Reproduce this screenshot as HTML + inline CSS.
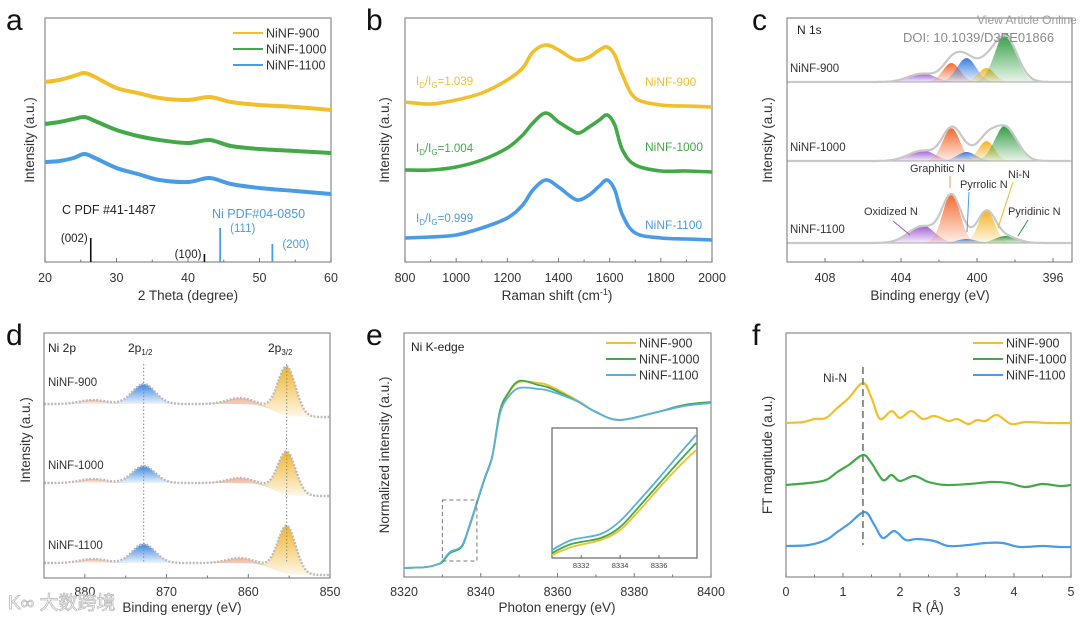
<!DOCTYPE html>
<html><head><meta charset="utf-8">
<style>
html,body{margin:0;padding:0;background:#fff;}
svg{display:block;font-family:"Liberation Sans","Noto Sans CJK SC",sans-serif;}
</style></head>
<body>
<svg id="fig" width="1080" height="619" viewBox="0 0 1080 619" xmlns="http://www.w3.org/2000/svg">
<defs>
<linearGradient id="gBlue" x1="0" y1="0" x2="0" y2="1"><stop offset="0" stop-color="#3b86e0"/><stop offset="1" stop-color="#3b86e0" stop-opacity="0.1"/></linearGradient>
<linearGradient id="gYel" x1="0" y1="0" x2="0" y2="1"><stop offset="0" stop-color="#f0b429"/><stop offset="1" stop-color="#f0b429" stop-opacity="0.1"/></linearGradient>
<linearGradient id="gPink" x1="0" y1="0" x2="0" y2="1"><stop offset="0" stop-color="#f4b79c"/><stop offset="1" stop-color="#f4b79c" stop-opacity="0.2"/></linearGradient>
<linearGradient id="gPur" x1="0" y1="0" x2="0" y2="1"><stop offset="0" stop-color="#9b59d0"/><stop offset="1" stop-color="#9b59d0" stop-opacity="0.1"/></linearGradient>
<linearGradient id="gOra" x1="0" y1="0" x2="0" y2="1"><stop offset="0" stop-color="#f26a2e"/><stop offset="1" stop-color="#f26a2e" stop-opacity="0.1"/></linearGradient>
<linearGradient id="gBlu2" x1="0" y1="0" x2="0" y2="1"><stop offset="0" stop-color="#3b7fe0"/><stop offset="1" stop-color="#3b7fe0" stop-opacity="0.1"/></linearGradient>
<linearGradient id="gYel2" x1="0" y1="0" x2="0" y2="1"><stop offset="0" stop-color="#f5b324"/><stop offset="1" stop-color="#f5b324" stop-opacity="0.1"/></linearGradient>
<linearGradient id="gGrn" x1="0" y1="0" x2="0" y2="1"><stop offset="0" stop-color="#2e9a3e"/><stop offset="1" stop-color="#2e9a3e" stop-opacity="0.1"/></linearGradient>
<clipPath id="clipC"><rect x="787" y="18" width="285" height="244"/></clipPath>
</defs>
</svg>
<script>
// ---------- DATA ----------
const seriesNames = ["NiNF-900","NiNF-1000","NiNF-1100"];
// (a) XRD
const xrdTheta = [20,22,24,25.5,27,30,33,36,40,43,46,50,55,60];
const xrd900  = [180,182,186,189,185,174,169,164,162,165,160,157,155,152];
const xrd1000 = [138,140,143,145,141,132,126,122,119,122,116,113,111,109];
const xrd1100 = [100,101,104,108,104,94,88,82,80,84,78,74,71,68];
const refCTheta = [26.4,42.3];
const refCHeight = [24,8];
const refCLabels = ["(002)","(100)"];
const refNiTheta = [44.5,51.8];
const refNiHeight = [34,18];
const refNiLabels = ["(111)","(200)"];
const xTicksA = [20,30,40,50,60];
// (b) Raman
const ramanShift = [800,900,1000,1100,1200,1260,1300,1350,1400,1450,1480,1520,1560,1590,1620,1650,1700,1800,1900,2000];
const raman900  = [160,158,162,169,182,194,210,217,212,204,202,205,212,215,207,187,164,157,156,155];
const raman1000 = [92,92,95,102,114,127,139,149,140,132,129,135,142,147,137,112,97,91,91,90];
const raman1100 = [24,25,27,34,44,57,72,82,75,65,62,67,76,82,72,47,29,24,23,22];
const ratioLabels = ["1.039","1.004","0.999"];
const xTicksB = [800,1000,1200,1400,1600,1800,2000];
// (c) N 1s components: Oxidized, Graphitic, Pyrrolic, Ni-N, Pyridinic
const compNames = ["Oxidized N","Graphitic N","Pyrrolic N","Ni-N","Pyridinic N"];
const compCenters = [402.9,401.35,400.55,399.5,398.5];
const compWidths = [0.65,0.45,0.5,0.42,0.55];
const n1s900  = [9,19,24,14,49];
const n1s1000 = [11,33,9,20,36];
const n1s1100 = [18,50,4,33,7];
const xTicksC = [408,404,400,396];
// (d) Ni 2p: peaks [sat 879, 2p1/2 872.8, sat 861, 2p3/2 855.3]
const ni2pCenters = [879,872.8,861,855.3];
const ni2pWidths = [1.6,1.4,1.6,1.1];
const ni2p900  = [4,20,6,49];
const ni2p1000 = [4,17,5,43];
const ni2p1100 = [4,19,5,48];
const xTicksD = [880,870,860,850];
// (e) XANES
const xanesE = [8320,8326,8329,8330,8332,8335,8337,8339,8341,8343,8345,8347,8350,8355,8358,8365,8370,8376,8385,8393,8400];
const xanes900  = [9,10,13,15,24,30,50,74,98,120,164,182,195,194,191,177,165,157,164,171,174];
const xanes1000 = [9,10,13,15,24,30,50,74,98,121,166,183,196,192,189,176,165,157,164,172,175];
const xanes1100 = [9,10,13,16,25,31,51,75,99,121,163,179,189,188,186,176,165,157,164,171,174];
const insetE = [8330.5,8331.5,8333,8334,8335,8336,8337,8337.9];
const inset900  = [3,11,18,28,48,70,91,108];
const inset1000 = [5,14,20,31,52,74,96,115];
const inset1100 = [8,18,24,37,58,80,103,123];
const xTicksE = [8320,8340,8360,8380,8400];
const insetTicks = [8332,8334,8336];
// (f) EXAFS
const rA900  = [0,0.3,0.5,0.7,0.9,1.1,1.35,1.5,1.65,1.85,2.0,2.2,2.4,2.6,2.85,3.0,3.2,3.35,3.5,3.7,3.95,4.2,4.6,5];
const ft900  = [154,155,158,159,169,179,194,179,158,166,159,166,158,161,156,158,153,157,156,162,153,155,154,154];
const rA1000 = [0,0.4,0.7,0.9,1.1,1.35,1.5,1.7,1.85,2.0,2.25,2.5,2.8,3.2,3.6,3.9,4.2,4.5,4.8,5];
const ft1000 = [92,94,97,105,112,122,114,97,102,96,101,95,92,93,95,94,90,93,91,92];
const rA1100 = [0,0.4,0.7,0.9,1.1,1.38,1.55,1.7,1.9,2.1,2.3,2.6,2.85,3.2,3.5,3.8,4.1,4.5,4.8,5];
const ft1100 = [31,32,37,45,53,65,52,39,46,37,38,36,31,32,34,34,30,31,30,30];
const xTicksF = [0,1,2,3,4,5];

// ---------- HELPERS ----------
const NS="http://www.w3.org/2000/svg";
const svg=document.getElementById('fig');
function el(tag,attrs,parent,text){const e=document.createElementNS(NS,tag);for(const k in attrs)e.setAttribute(k,attrs[k]);if(text!==undefined)e.textContent=text;(parent||svg).appendChild(e);return e;}
function lin(d0,d1,r0,r1){return v=>r0+(v-d0)*(r1-r0)/(d1-d0);}
function smoothPath(pts){
  let d=`M${pts[0][0].toFixed(1)},${pts[0][1].toFixed(1)}`;
  for(let i=0;i<pts.length-1;i++){const p0=pts[Math.max(0,i-1)],p1=pts[i],p2=pts[i+1],p3=pts[Math.min(pts.length-1,i+2)];
    const c1=[p1[0]+(p2[0]-p0[0])/6,p1[1]+(p2[1]-p0[1])/6],c2=[p2[0]-(p3[0]-p1[0])/6,p2[1]-(p3[1]-p1[1])/6];
    d+=`C${c1[0].toFixed(1)},${c1[1].toFixed(1)} ${c2[0].toFixed(1)},${c2[1].toFixed(1)} ${p2[0].toFixed(1)},${p2[1].toFixed(1)}`;}
  return d;}
const COL={y:"#f2bf2c",g:"#43a948",b:"#4a9be6",gray:"#555"};
function frame(x0,y0,x1,y1,name){
  const r=el('rect',{x:x0,y:y0,width:x1-x0,height:y1-y0,fill:'none',stroke:'#8a8a8a','stroke-width':1.2});
  
  
}
function xAxis(ticks,sx,y1,labelY,name,minorStep){
  const g=el('g',{});
  
  
  ticks.forEach(t=>{const x=sx(t);el('line',{x1:x,y1:y1,x2:x,y2:y1-4,stroke:'#777'},g);
    const tx=el('text',{x:x,y:labelY,'font-size':12.5,'text-anchor':'middle',fill:'#333'},g,String(t));
    
    });
  if(minorStep){for(let i=0;i<ticks.length-1;i++){const m=(ticks[i]+ticks[i+1])/2;const x=sx(m);el('line',{x1:x,y1:y1,x2:x,y2:y1-2.5,stroke:'#777'},g);}}
}
function title(x,y,txt,name,rot,size){
  const t=el('text',{x:x,y:y,'font-size':size||13.5,'text-anchor':'middle',fill:'#333',transform:rot?`rotate(-90 ${x} ${y})`:''},svg,txt);
  
  return t;}
function letter(x,y,c){const t=el('text',{x:x,y:y,'font-size':30,fill:'#111'},svg,c);
  
  }
function line(xs,vs,sx,sy,color,w,name,parent){
  const p=el('path',{d:smoothPath(xs.map((x,i)=>[sx(x),sy(vs[i])])),fill:'none',stroke:color,'stroke-width':w,'stroke-linejoin':'round'},parent);
  
  return p;}
function legend(x,y,colors,name){
  seriesNames.forEach((s,i)=>{
    const g=el('g',{});
    
    
    el('line',{x1:x,y1:y+i*16,x2:x+30,y2:y+i*16,stroke:colors[i],'stroke-width':2},g);
    el('text',{x:x+33,y:y+i*16+4.5,'font-size':12.5,fill:'#333'},g,s);});
}
const cols3=[COL.y,COL.g,COL.b];

// ---------- PANEL A ----------
(function(){
  const sx=lin(20,60,45,331), sy=lin(0,244,262,18);
  frame(45,18,331,262,'panel-a');
  [xrd900,xrd1000,xrd1100].forEach((s,i)=>line(xrdTheta,s,sx,sy,cols3[i],4,'xrd-'+seriesNames[i].toLowerCase()));
  refCTheta.forEach((t,i)=>{const r=el('line',{x1:sx(t),y1:262,x2:sx(t),y2:sy(refCHeight[i]),stroke:'#111','stroke-width':1.6});
    
    
    el('text',{x:sx(t)-3,y:sy(refCHeight[i])+4,'font-size':11.5,'text-anchor':'end',fill:'#222'},svg,refCLabels[i]);});
  refNiTheta.forEach((t,i)=>{const r=el('line',{x1:sx(t),y1:262,x2:sx(t),y2:sy(refNiHeight[i]),stroke:COL.b,'stroke-width':1.8});
    
    
    el('text',{x:sx(t)+10,y:sy(refNiHeight[i])+4,'font-size':11.5,fill:COL.b},svg,refNiLabels[i]);});
  el('text',{x:62,y:214,'font-size':12.5,fill:'#222'},svg,'C PDF #41-1487');
  el('text',{x:212,y:218,'font-size':12.5,fill:COL.b},svg,'Ni PDF#04-0850');
  xAxis(xTicksA,sx,262,282,'panel-a',true);
  title(188,300,'2 Theta (degree)','x-axis-title-a');
  title(34,140,'Intensity (a.u.)','y-axis-title-a',true);
  legend(233,33,cols3,'panel-a');
  letter(6,30,'a');
})();

// ---------- PANEL B ----------
(function(){
  const sx=lin(800,2000,405,712), sy=lin(0,244,262,18);
  frame(405,18,712,262,'panel-b');
  [raman900,raman1000,raman1100].forEach((s,i)=>line(ramanShift,s,sx,sy,cols3[i],3.6,'raman-'+seriesNames[i].toLowerCase()));
  const ly=[85,152,222], ny=[86,151,229];
  ratioLabels.forEach((r,i)=>{
    const t=el('text',{x:416,y:ly[i],'font-size':11.5,fill:cols3[i]},svg);
    
    
    el('tspan',{},t,'I');el('tspan',{'font-size':8,dy:3},t,'D');el('tspan',{dy:-3},t,'/I');el('tspan',{'font-size':8,dy:3},t,'G');el('tspan',{dy:-3},t,'='+r);
    el('text',{x:645,y:ny[i],'font-size':12,fill:cols3[i]},svg,seriesNames[i]);});
  xAxis(xTicksB,sx,262,282,'panel-b',true);
  const t=title(557,300,'','x-axis-title-b');
  el('tspan',{},t,'Raman shift (cm');el('tspan',{'font-size':9,dy:-5},t,'-1');el('tspan',{dy:5},t,')');
  title(389,140,'Intensity (a.u.)','y-axis-title-b',true);
  letter(366,30,'b');
})();

// ---------- PANEL C ----------
(function(){
  const sx=lin(410,395,787,1072);
  const bases=[82,161,243];
  const fills=['url(#gPur)','url(#gOra)','url(#gBlu2)','url(#gYel2)','url(#gGrn)'];
  const g=el('g',{'clip-path':'url(#clipC)'});
  
  
  [n1s900,n1s1000,n1s1100].forEach((hs,si)=>{
    const b=bases[si];
    el('line',{x1:787,y1:b,x2:1072,y2:b,stroke:'#bbb','stroke-width':1.2},g);
    const E=[];for(let e=410;e>=395;e-=0.1)E.push(e);
    hs.forEach((h,ci)=>{
      let d=`M${sx(E[0])},${b}`;
      E.forEach(e=>{const v=h*Math.exp(-0.5*((e-compCenters[ci])/compWidths[ci])**2);d+=`L${sx(e).toFixed(1)},${(b-v).toFixed(1)}`;});
      d+=`L${sx(E[E.length-1])},${b}Z`;
      const p=el('path',{d:d,fill:fills[ci],stroke:'none'},g);
      
      
    });
    let d='';
    E.forEach((e,k)=>{let v=0;hs.forEach((h,ci)=>{v+=h*Math.exp(-0.5*((e-compCenters[ci])/(compWidths[ci]*1.12))**2);});
      d+=(k?'L':'M')+sx(e).toFixed(1)+','+(b-v*0.92).toFixed(1);});
    const env=el('path',{d:d,fill:'none',stroke:'#c8c8c8','stroke-width':2.2},g);
    
    
    el('text',{x:790,y:b-10,'font-size':11.5,fill:'#333'},svg,seriesNames[si]);
  });
  frame(787,18,1072,262,'panel-c');
  el('text',{x:797,y:34,'font-size':12,fill:'#222'},svg,'N 1s');
  const ann=[["Graphitic N",910,172,'#e8a040'],["Pyrrolic N",960,188,'#4a9be6'],["Ni-N",1008,178,'#f0b429'],["Oxidized N",864,215,'#9b59d0'],["Pyridinic N",1008,215,'#2e9a3e']];
  ann.forEach(a=>{const t=el('text',{x:a[1],y:a[2],'font-size':11,fill:'#333'},svg,a[0]);
    
    });
  el('line',{x1:950,y1:176,x2:950,y2:188,stroke:'#e8a040'});
  el('line',{x1:969,y1:192,x2:967,y2:232,stroke:'#4a9be6'});
  el('line',{x1:1013,y1:182,x2:998,y2:228,stroke:'#f0b429'});
  el('line',{x1:893,y1:221,x2:910,y2:235,stroke:'#9b59d0'});
  el('line',{x1:1028,y1:220,x2:1018,y2:236,stroke:'#2e9a3e'});
  xAxis(xTicksC,sx,262,282,'panel-c',true);
  title(930,300,'Binding energy (eV)','x-axis-title-c');
  title(772,140,'Intensity (a.u.)','y-axis-title-c',true);
  el('text',{x:977,y:24,'font-size':12,fill:'#9a9a9a'},svg,'View Article Online');
  el('text',{x:903,y:42,'font-size':13,fill:'#8a8a8a'},svg,'DOI: 10.1039/D3EE01866');
  letter(752,30,'c');
})();

// ---------- PANEL D ----------
(function(){
  const sx=lin(885,850,44,330);
  const baseL=[404,483,563], baseR=[417,496,575];
  const fills=['url(#gPink)','url(#gBlue)','url(#gPink)','url(#gYel)'];
  const E=[];for(let e=885;e>=850;e-=0.1)E.push(e);
  const baseAt=(si,e)=>{const t=1/(1+Math.exp(-(857-e)*1.2));return baseL[si]+(baseR[si]-baseL[si])*t;};
  [ni2p900,ni2p1000,ni2p1100].forEach((hs,si)=>{
    hs.forEach((h,ci)=>{
      let d='',first=true;const c=ni2pCenters[ci],w=ni2pWidths[ci];
      const seg=E.filter(e=>Math.abs(e-c)<w*3.5);
      seg.forEach(e=>{const v=h*Math.exp(-0.5*((e-c)/w)**2);d+=(first?'M':'L')+sx(e).toFixed(1)+','+(baseAt(si,e)-v).toFixed(1);first=false;});
      for(let k=seg.length-1;k>=0;k--)d+='L'+sx(seg[k]).toFixed(1)+','+baseAt(si,seg[k]).toFixed(1);
      const p=el('path',{d:d+'Z',fill:fills[ci],stroke:'none'});
      
      
    });
    let d='';
    E.forEach((e,k)=>{let v=0;hs.forEach((h,ci)=>{v+=h*Math.exp(-0.5*((e-ni2pCenters[ci])/ni2pWidths[ci])**2);});
      d+=(k?'L':'M')+sx(e).toFixed(1)+','+(baseAt(si,e)-v).toFixed(1);});
    const p=el('path',{d:d,fill:'none',stroke:'#bbb','stroke-width':2.4,'stroke-dasharray':'2 1.5'});
    
    
    el('text',{x:48,y:[386,469,549][si],'font-size':11.5,fill:'#333'},svg,seriesNames[si]);
  });
  [ni2pCenters[1],ni2pCenters[3]].forEach(c=>el('line',{x1:sx(c),y1:364,x2:sx(c),y2:563,stroke:'#888','stroke-dasharray':'1.5 2'}));
  frame(44,333,330,578,'panel-d');
  el('text',{x:48,y:352,'font-size':12,fill:'#222'},svg,'Ni 2p');
  const t1=el('text',{x:128,y:352,'font-size':12,fill:'#222'},svg);el('tspan',{},t1,'2p');el('tspan',{'font-size':8,dy:3},t1,'1/2');
  const t2=el('text',{x:268,y:352,'font-size':12,fill:'#222'},svg);el('tspan',{},t2,'2p');el('tspan',{'font-size':8,dy:3},t2,'3/2');
  xAxis(xTicksD,sx,578,596,'panel-d',true);
  title(182,612,'Binding energy (eV)','x-axis-title-d');
  title(30,440,'Intensity (a.u.)','y-axis-title-d',true);
  const wm=el('text',{x:8,y:609,'font-size':19,fill:'#fff',stroke:'#bbb','stroke-width':0.8},svg,'K∞ 大数跨境');
  
  
  letter(6,345,'d');
})();

// ---------- PANEL E ----------
(function(){
  const sx=lin(8320,8400,404,711), sy=lin(0,244,577,333);
  frame(404,333,711,577,'panel-e');
  [xanes900,xanes1000,xanes1100].forEach((s,i)=>line(xanesE,s,sx,sy,[COL.y,COL.g,'#5ab0dc'][i],1.8,'xanes-'+seriesNames[i].toLowerCase()));
  const db=el('rect',{x:sx(8330),y:500,width:sx(8339)-sx(8330),height:61,fill:'none',stroke:'#777','stroke-dasharray':'4 3'});
  
  
  const ix=lin(8330.5,8337.95,552,697), iy=lin(0,130,558,428);
  el('rect',{x:552,y:428,width:145,height:130,fill:'#fff',stroke:'#666','stroke-width':1.2});
  const ig=el('g',{});
  
  
  [inset900,inset1000,inset1100].forEach((s,i)=>line(insetE,s,ix,iy,[COL.y,COL.g,'#5ab0dc'][i],1.8,'inset-'+seriesNames[i].toLowerCase(),ig));
  insetTicks.forEach(t=>{el('line',{x1:ix(t),y1:558,x2:ix(t),y2:555,stroke:'#666'},ig);el('text',{x:ix(t),y:568,'font-size':7.5,'text-anchor':'middle',fill:'#444'},ig,String(t));});
  el('text',{x:411,y:351,'font-size':12,fill:'#222'},svg,'Ni K-edge');
  xAxis(xTicksE,sx,577,596,'panel-e',true);
  title(557,612,'Photon energy (eV)','x-axis-title-e');
  title(389,455,'Normalized intensity (a.u.)','y-axis-title-e',true);
  legend(606,343,[COL.y,COL.g,'#5ab0dc'],'panel-e');
  letter(366,345,'e');
})();

// ---------- PANEL F ----------
(function(){
  const sx=lin(0,5,786,1071), sy=lin(0,244,577,333);
  frame(786,333,1071,577,'panel-f');
  line(rA900,ft900,sx,sy,COL.y,2.2,'exafs-ninf-900');
  line(rA1000,ft1000,sx,sy,COL.g,2.2,'exafs-ninf-1000');
  line(rA1100,ft1100,sx,sy,COL.b,2.2,'exafs-ninf-1100');
  const dl=el('line',{x1:sx(1.35),y1:367,x2:sx(1.35),y2:545,stroke:'#777','stroke-width':1.6,'stroke-dasharray':'7 4'});
  
  
  el('text',{x:823,y:382,'font-size':12,fill:'#333'},svg,'Ni-N');
  xAxis(xTicksF,sx,577,596,'panel-f',true);
  title(928,612,'R (Å)','x-axis-title-f');
  title(772,455,'FT magnitude (a.u.)','y-axis-title-f',true);
  legend(973,343,cols3,'panel-f');
  letter(752,345,'f');
})();
</script>
</body></html>
